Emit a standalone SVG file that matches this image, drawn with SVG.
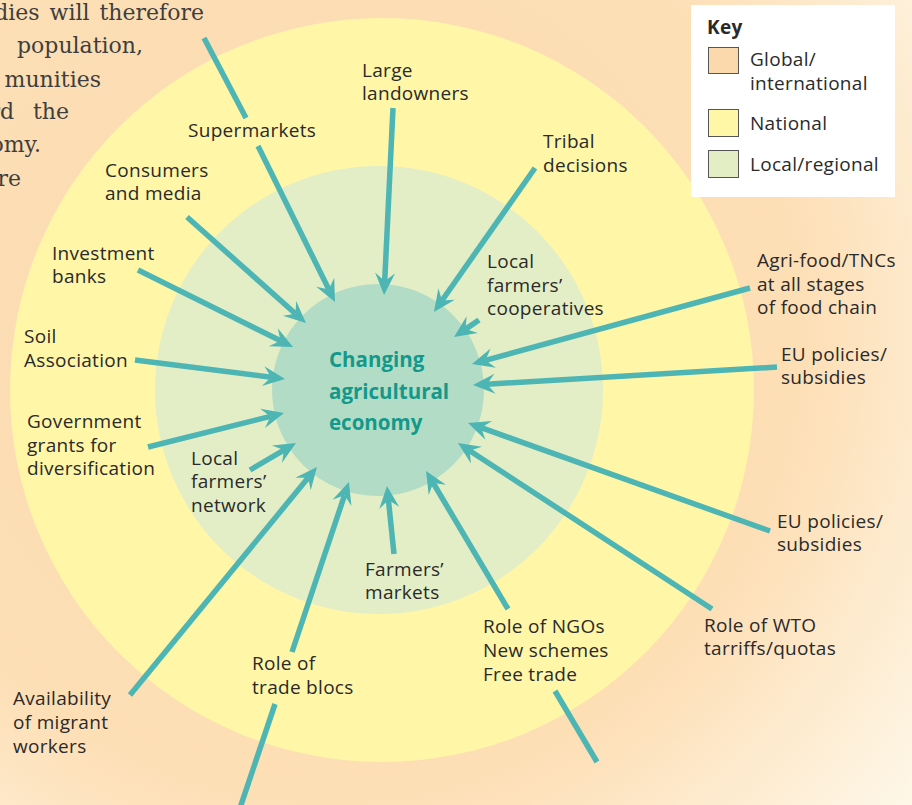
<svg xmlns="http://www.w3.org/2000/svg" width="912" height="805" viewBox="0 0 912 805">
<defs>
<radialGradient id="bg" gradientUnits="userSpaceOnUse" cx="330" cy="330" r="760">
<stop offset="0" stop-color="#fcdaae"/>
<stop offset="0.62" stop-color="#fddfb6"/>
<stop offset="1" stop-color="#fef8ea"/>
</radialGradient>
<marker id="ah" markerUnits="userSpaceOnUse" viewBox="-24 -12 26 24" markerWidth="26" markerHeight="24" refX="-14" refY="0" orient="auto">
<path d="M0,0 L-22,-10 L-14,0 L-22,10 Z" fill="#4db5b4"/>
</marker>
<style>
.lbl{font-family:"Open Sans","Liberation Sans",sans-serif;font-size:19px;fill:#2a2a2a;letter-spacing:0.3px}
.body{font-family:"DejaVu Serif","Liberation Serif",serif;font-size:22px;fill:#3e3e3e;text-anchor:end}
.title{font-family:"Open Sans","Liberation Sans",sans-serif;font-size:20.5px;font-weight:bold;fill:#12998b}
.con line{stroke:#4db5b4;stroke-width:5.5;fill:none}
.arr{marker-end:url(#ah)}
.sw{stroke:#555;stroke-width:1}
</style>
</defs>
<rect x="0" y="0" width="912" height="805" fill="url(#bg)"/>
<g id="body-text">
<text class="body" x="204" y="20" word-spacing="3">dies will therefore</text>
<text class="body" x="143" y="53">population,</text>
<text class="body" x="101" y="87">munities</text>
<text class="body" x="69" y="119" word-spacing="12">rd the</text>
<text class="body" x="41" y="152">omy.</text>
<text class="body" x="21" y="186">re</text>
</g>
<circle cx="382" cy="390" r="372" fill="#fff6a8"/>
<circle cx="379" cy="390" r="224" fill="#e3eec6"/>
<g id="center">
<circle cx="378" cy="390" r="106" fill="#b2dcc5"/>
<text class="title" x="329" y="367">Changing</text>
<text class="title" x="329" y="399">agricultural</text>
<text class="title" x="329" y="430">economy</text>
</g>
<g id="connectors" class="con">
<line x1="204" y1="38" x2="246" y2="118"/>
<line class="arr" x1="258" y1="146" x2="328.8" y2="289.4"/>
<line class="arr" x1="393" y1="108" x2="384.7" y2="281"/>
<line class="arr" x1="535" y1="168" x2="442" y2="300.5"/>
<line class="arr" x1="479" y1="320" x2="465.6" y2="329.1"/>
<line class="arr" x1="750" y1="288" x2="485.5" y2="360.3"/>
<line class="arr" x1="777" y1="367" x2="487" y2="384.2"/>
<line class="arr" x1="770" y1="531" x2="481.2" y2="427.7"/>
<line class="arr" x1="712" y1="609" x2="469.7" y2="450.7"/>
<line class="arr" x1="508" y1="609" x2="433.2" y2="483"/>
<line x1="555" y1="691" x2="597" y2="762"/>
<line class="arr" x1="394" y1="554" x2="388.4" y2="499.9"/>
<line class="arr" x1="292" y1="652" x2="344.5" y2="495.3"/>
<line x1="275" y1="704" x2="240" y2="808"/>
<line class="arr" x1="130" y1="695" x2="308.1" y2="477.8"/>
<line class="arr" x1="250" y1="470" x2="283.9" y2="450.1"/>
<line class="arr" x1="148" y1="447" x2="270.4" y2="416.4"/>
<line class="arr" x1="135" y1="360" x2="271.1" y2="377.2"/>
<line class="arr" x1="138" y1="270" x2="280.5" y2="340.8"/>
<line class="arr" x1="187" y1="217" x2="295.5" y2="313.7"/>
</g>
<g id="supermarkets"><text class="lbl" x="188" y="137">Supermarkets</text></g>
<g id="large-landowners"><text class="lbl" x="362" y="77">Large</text><text class="lbl" x="362" y="100">landowners</text></g>
<g id="tribal-decisions"><text class="lbl" x="543" y="148">Tribal</text><text class="lbl" x="543" y="172">decisions</text></g>
<g id="local-cooperatives"><text class="lbl" x="487" y="268">Local</text><text class="lbl" x="487" y="292">farmers’</text><text class="lbl" x="487" y="315">cooperatives</text></g>
<g id="agri-food"><text class="lbl" x="757" y="267">Agri-food/TNCs</text><text class="lbl" x="757" y="291">at all stages</text><text class="lbl" x="757" y="314">of food chain</text></g>
<g id="eu-policies-1"><text class="lbl" x="781" y="361">EU policies/</text><text class="lbl" x="781" y="384">subsidies</text></g>
<g id="eu-policies-2"><text class="lbl" x="777" y="528">EU policies/</text><text class="lbl" x="777" y="551">subsidies</text></g>
<g id="role-wto"><text class="lbl" x="704" y="632">Role of WTO</text><text class="lbl" x="704" y="655">tarriffs/quotas</text></g>
<g id="role-ngos"><text class="lbl" x="483" y="633">Role of NGOs</text><text class="lbl" x="483" y="657">New schemes</text><text class="lbl" x="483" y="681">Free trade</text></g>
<g id="farmers-markets"><text class="lbl" x="365" y="576">Farmers’</text><text class="lbl" x="365" y="599">markets</text></g>
<g id="trade-blocs"><text class="lbl" x="252" y="670">Role of</text><text class="lbl" x="252" y="694">trade blocs</text></g>
<g id="migrant-workers"><text class="lbl" x="13" y="705">Availability</text><text class="lbl" x="13" y="729">of migrant</text><text class="lbl" x="13" y="753">workers</text></g>
<g id="local-network"><text class="lbl" x="191" y="465">Local</text><text class="lbl" x="191" y="488">farmers’</text><text class="lbl" x="191" y="512">network</text></g>
<g id="government-grants"><text class="lbl" x="27" y="428">Government</text><text class="lbl" x="27" y="452">grants for</text><text class="lbl" x="27" y="475">diversification</text></g>
<g id="soil-association"><text class="lbl" x="24" y="343">Soil</text><text class="lbl" x="24" y="367">Association</text></g>
<g id="investment-banks"><text class="lbl" x="52" y="260">Investment</text><text class="lbl" x="52" y="283">banks</text></g>
<g id="consumers-media"><text class="lbl" x="105" y="177">Consumers</text><text class="lbl" x="105" y="200">and media</text></g>
<g id="key">
<rect x="691" y="5" width="204" height="192" fill="#ffffff"/>
<text class="lbl" x="707" y="34" font-weight="bold">Key</text>
<rect class="sw" x="708.5" y="47.5" width="30" height="26" fill="#fcd9ad"/>
<text class="lbl" x="750" y="66">Global/</text>
<text class="lbl" x="750" y="90">international</text>
<rect class="sw" x="708.5" y="109.5" width="30" height="27" fill="#fff6a6"/>
<text class="lbl" x="750" y="130">National</text>
<rect class="sw" x="708.5" y="150.5" width="30" height="27" fill="#e3eec5"/>
<text class="lbl" x="750" y="171">Local/regional</text>
</g>
</svg>
